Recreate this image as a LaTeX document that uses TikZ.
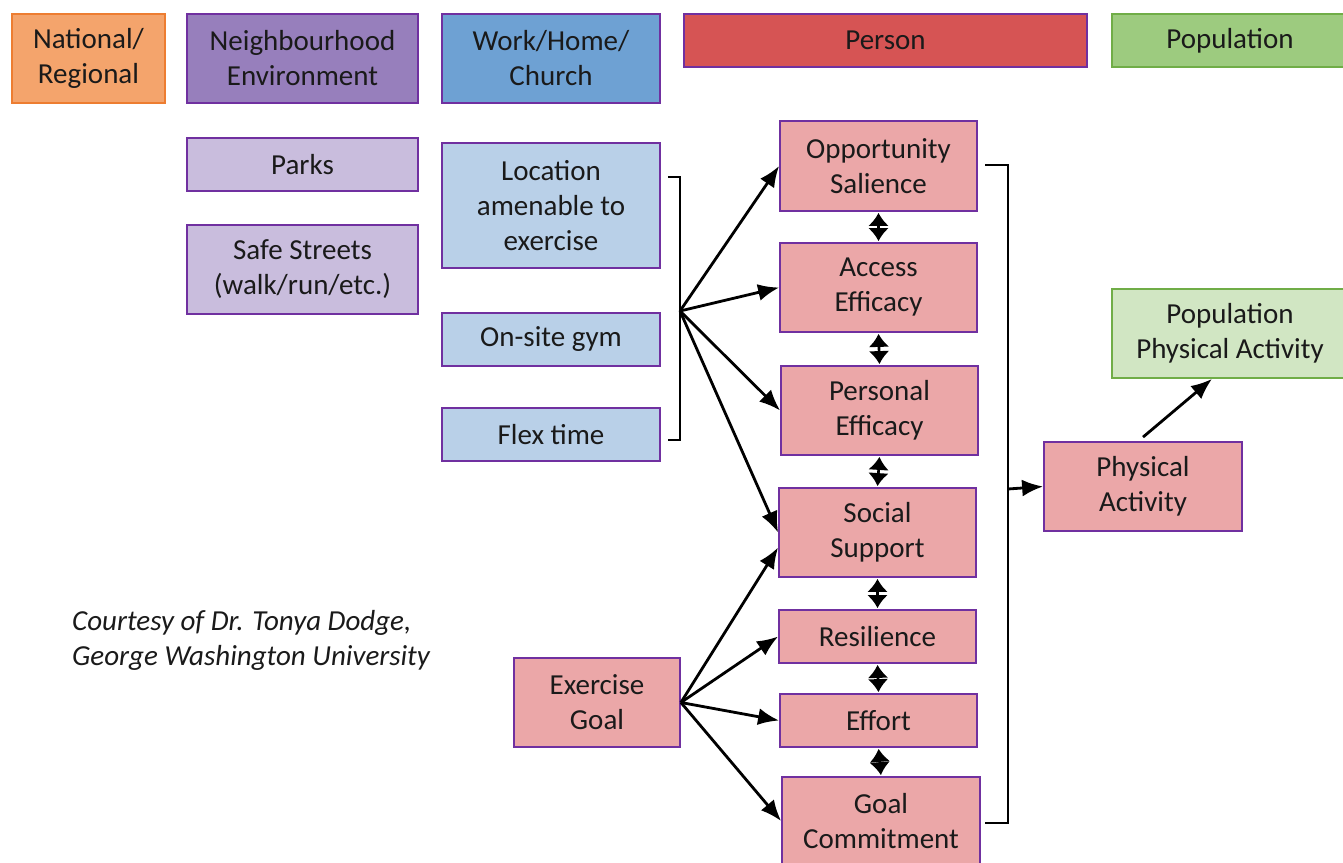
\documentclass[tikz,border=0pt]{standalone}
\usepackage{fontspec}
\setmainfont{Carlito}
\usetikzlibrary{arrows.meta,calc}
\definecolor{txt}{HTML}{1A1A1A}
\definecolor{purp}{HTML}{7030A0}
\definecolor{orgfill}{HTML}{F4A46C}
\definecolor{orgline}{HTML}{ED7D31}
\definecolor{nbfill}{HTML}{977FBC}
\definecolor{wkfill}{HTML}{6EA1D3}
\definecolor{psfill}{HTML}{D65454}
\definecolor{ppfill}{HTML}{9DCB7F}
\definecolor{grline}{HTML}{70AD47}
\definecolor{parkfill}{HTML}{C9BDDD}
\definecolor{locfill}{HTML}{B9D0E8}
\definecolor{pinkfill}{HTML}{EBA7A8}
\definecolor{lgfill}{HTML}{D1E6C3}
\begin{document}
\begin{tikzpicture}[x=1pt,y=-1pt,
  box/.style={draw=purp,line width=1.8pt,align=center,inner sep=0pt,text=txt,
    font=\fontsize{29}{35}\selectfont},
  arr/.style={line width=2.8pt,-{Latex[length=21pt,width=17pt]}},
  dbl/.style={line width=2.6pt,shorten <=1pt,shorten >=1pt,{Latex[length=13pt,width=21pt]}-{Latex[length=13pt,width=21pt]}},
  brk/.style={line width=2.4pt}]
\useasboundingbox (0,0) rectangle (1343,862);
\fill[white] (0,0) rectangle (1343,862);
% header row
\node[box,draw=orgline,fill=orgfill,minimum width=153pt,minimum height=89pt] (nat) at (88.5,58.5) {National/\\Regional};
\node[box,fill=nbfill,minimum width=231pt,minimum height=89pt] (nb) at (302.5,58.5) {Neighbourhood\\Environment};
\node[box,fill=wkfill,minimum width=218pt,minimum height=89pt] (wk) at (551,58.5) {Work/Home/\\Church};
\node[box,fill=psfill,minimum width=403pt,minimum height=53pt] (per) at (885.5,40.5) {Person};
\node[box,draw=grline,fill=ppfill,minimum width=240pt,minimum height=53pt] (pop) at (1232,40.5) {\hspace*{-4pt}Population};
% neighbourhood column
\node[box,fill=parkfill,minimum width=231pt,minimum height=53pt] (parks) at (302.5,164.5) {Parks};
\node[box,fill=parkfill,minimum width=231pt,minimum height=89pt] (safe) at (302.5,269.5) {Safe Streets\\(walk/run/etc.)};
% work column
\node[box,fill=locfill,minimum width=218pt,minimum height=125pt] (loc) at (551,205.5) {Location\\amenable to\\exercise};
\node[box,fill=locfill,minimum width=218pt,minimum height=53pt] (gym) at (551,339.5) {On-site gym};
\node[box,fill=locfill,minimum width=218pt,minimum height=53pt] (flex) at (551,434.5) {Flex time};
% person column
\node[box,fill=pinkfill,minimum width=197pt,minimum height=90pt] (opp) at (878.5,166) {Opportunity\\Salience};
\node[box,fill=pinkfill,minimum width=197pt,minimum height=89pt] (acc) at (878.5,287.5) {Access\\Efficacy};
\node[box,fill=pinkfill,minimum width=197pt,minimum height=89pt] (pers) at (879.5,410.5) {Personal\\Efficacy};
\node[box,fill=pinkfill,minimum width=197pt,minimum height=89pt] (soc) at (877.5,532.5) {Social\\Support};
\node[box,fill=pinkfill,minimum width=197pt,minimum height=53pt] (res) at (877.5,636.5) {Resilience};
\node[box,fill=pinkfill,minimum width=197pt,minimum height=53pt] (eff) at (878.5,720.5) {Effort};
\node[box,fill=pinkfill,minimum width=198pt,minimum height=88pt] (gc) at (881,821) {Goal\\Commitment};
\node[box,fill=pinkfill,minimum width=166pt,minimum height=89pt] (eg) at (597,702.5) {Exercise\\Goal};
\node[box,fill=pinkfill,minimum width=198pt,minimum height=89pt] (pa) at (1143,486.5) {Physical\\Activity};
\node[box,draw=grline,fill=lgfill,minimum width=240pt,minimum height=89pt] (ppa) at (1232,333.5) {\hspace*{-4pt}Population\\\hspace*{-4pt}Physical Activity};
% courtesy
\node[anchor=west,align=left,text=txt,font=\fontsize{29}{35}\selectfont\itshape,inner sep=0pt] (court) at (72,640.5) {Courtesy of Dr. Tonya Dodge,\\George Washington University};
% left bracket
\coordinate (lb) at (680,311);
\draw[brk] ($(loc.east |- 0,177)+(7,0)$) -- (680,177) -- (680,440) -- ($(flex.east |- 0,440)+(7,0)$);
\draw[arr] (lb) -- (opp.west);
\draw[arr] (lb) -- (acc.west);
\draw[arr] (lb) -- (pers.west);
\draw[arr] (lb) -- (soc.west);
% exercise goal arrows
\coordinate (egp) at (eg.east);
\draw[arr] (egp) -- ($(soc.west)+(0,15)$);
\draw[arr] (egp) -- (res.west);
\draw[arr] (egp) -- (eff.west);
\draw[arr] (egp) -- (gc.west);
% double arrows
\draw[dbl] (opp.south) -- (acc.north);
\draw[dbl] (acc.south) -- (pers.north);
\draw[dbl] (pers.south) -- (soc.north);
\draw[dbl] (soc.south) -- (res.north);
\draw[dbl] (res.south) -- (eff.north);
\draw[dbl] (eff.south) -- (gc.north);
% right bracket
\coordinate (rb) at (1008,489);
\draw[brk] (985,165) -- (1008,165) -- (1008,823) -- (985,823);
\draw[arr] (rb) -- (pa.west);
\draw[arr] (pa.north) ++(0,-4) -- ($(ppa.south)+(-20,0)$);
\end{tikzpicture}
\end{document}
